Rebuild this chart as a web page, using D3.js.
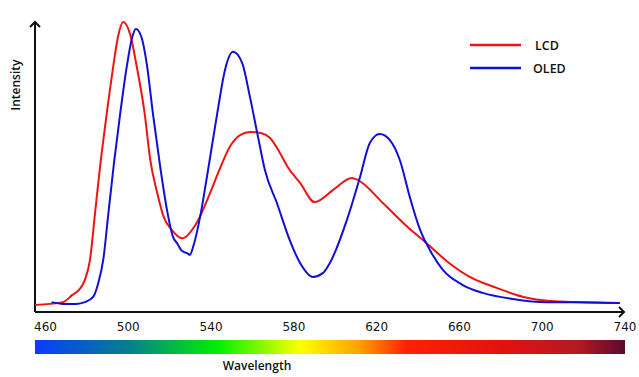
<!DOCTYPE html>
<html>
<head>
<meta charset="utf-8">
<script src="https://cdn.jsdelivr.net/npm/d3@7"></script>
<style>
	body { margin: 0; background: #fff; }
	svg { display: block; }
</style>
</head>
<body>
<svg width="639" height="377"></svg>
<script>
let ticks = [460, 500, 540, 580, 620, 660, 700, 740];

let lcdWl = [455, 462, 468.5, 473, 476.5, 479, 481.5, 484, 486.3, 489.7, 492.6, 495, 497.5, 501, 504, 508, 510.5, 514, 517, 521, 526, 533, 539.5, 544, 549, 554, 559, 564, 568.5, 573, 577, 583, 590, 599, 608, 611, 623, 635, 644, 655, 665, 678, 691, 704, 718, 737.5];
let lcdVal = [2.4, 2.8, 3.4, 5.9, 7.9, 11, 18, 34.5, 49.7, 69, 84, 94.8, 100, 95.5, 85, 68, 53, 41, 33, 28.3, 25.4, 30.7, 41, 49, 56.9, 61, 62.1, 61.7, 60, 55.2, 50, 44.5, 37.9, 42.1, 46.2, 45.5, 37.6, 29.3, 23.8, 16.9, 12.1, 8.3, 5.2, 3.8, 3.4, 3.1];

let oledWl = [463, 468.5, 475, 479, 483, 485.5, 488, 490.2, 493.1, 496, 499.4, 501.8, 503.7, 506.5, 509, 512, 515.3, 518.7, 521.6, 523.5, 526, 528.4, 529.8, 531.3, 534.7, 538, 543, 546.7, 550.6, 555, 558.8, 562.7, 566, 571.8, 578, 583, 589.2, 594, 597.4, 605.6, 612, 616.7, 621.5, 626.4, 631.2, 636, 641, 645.7, 652, 661.6, 671.3, 685.8, 702, 718, 737.5];
let oledVal = [3.4, 2.8, 2.8, 3.4, 5.2, 10, 18.5, 32.8, 51.4, 67.9, 85.2, 94.5, 97.6, 94.5, 85.2, 67.9, 50.7, 35.2, 25.9, 23.8, 21, 20.3, 19.7, 22.4, 32.8, 46.6, 68.6, 83.4, 89.7, 85.9, 74.1, 60.3, 49, 37.6, 24.8, 16.9, 12.1, 13.4, 16.9, 31.7, 46.6, 58.3, 61.4, 59.3, 52.4, 39.7, 28.3, 21.4, 14.5, 9.3, 6.6, 4.5, 3.4, 3.4, 3.1];

let series = [
	{name: "LCD", color: "#ee1414", wl: lcdWl, val: lcdVal},
	{name: "OLED", color: "#1010d4", wl: oledWl, val: oledVal}
];

let spectrumStops = [
	{offset: 0, color: "#0a3cff"},
	{offset: 0.16, color: "#04808c"},
	{offset: 0.31, color: "#00f000"},
	{offset: 0.45, color: "#ffff00"},
	{offset: 0.55, color: "#ffa000"},
	{offset: 0.63, color: "#ff2000"},
	{offset: 0.8, color: "#e01210"},
	{offset: 0.92, color: "#b41a22"},
	{offset: 1, color: "#5a0a30"}
];

let svg = d3.select("svg");
let axisX0 = 35, axisX1 = 624, axisY0 = 312, axisY1 = 22;

let x = d3.scaleLinear()
	.domain([460, 740])
	.range([45.5, 625]);

let y = d3.scaleLinear()
	.domain([0, 100])
	.range([axisY0, axisY1]);

// spectrum bar
let grad = svg.append("defs").append("linearGradient")
	.attr("id", "spectrum");
grad.selectAll("stop").data(spectrumStops).enter().append("stop")
	.attr("offset", d => d.offset)
	.attr("stop-color", d => d.color);

svg.append("rect")
	.attr("x", axisX0)
	.attr("y", 340)
	.attr("width", 625 - axisX0)
	.attr("height", 14)
	.attr("fill", "url(#spectrum)");

// axes with arrows
let axes = svg.append("g")
	.attr("stroke", "#111")
	.attr("stroke-width", 2)
	.attr("fill", "none");
axes.append("path")
	.attr("d", `M${axisX0},${axisY0}H${axisX1}M${axisX0},${axisY0}V${axisY1}`);
axes.append("path")
	.attr("d", `M${axisX1 - 5},${axisY0 - 5}L${axisX1},${axisY0}L${axisX1 - 5},${axisY0 + 5}`);
axes.append("path")
	.attr("d", `M${axisX0 - 5},${axisY1 + 5}L${axisX0},${axisY1}L${axisX0 + 5},${axisY1 + 5}`);

svg.append("g")
	.attr("font-family", "DejaVu Sans")
	.attr("font-size", 12)
	.attr("fill", "#111")
	.attr("text-anchor", "middle")
	.selectAll("text").data(ticks).enter().append("text")
	.attr("x", d => x(d))
	.attr("y", 331)
	.text(d => d);

// curves
let line = d3.line()
	.curve(d3.curveMonotoneX);

svg.append("g")
	.attr("fill", "none")
	.attr("stroke-width", 2)
	.selectAll("path").data(series).enter().append("path")
	.attr("stroke", d => d.color)
	.attr("d", d => line(d.wl.map((w, i) => [x(w), y(d.val[i])])));

// legend
let legend = svg.append("g")
	.attr("font-family", "Open Sans")
	.attr("font-weight", 600)
	.attr("font-size", 12.5)
	.selectAll("g").data(series).enter().append("g")
	.attr("transform", (d, i) => `translate(470,${45 + i * 23})`);
legend.append("line")
	.attr("x2", 51)
	.attr("stroke", d => d.color)
	.attr("stroke-width", 2.5);
legend.append("text")
	.attr("x", (d, i) => i ? 63 : 65)
	.attr("y", 4.5)
	.attr("fill", "#111")
	.text(d => d.name);

// axis titles
svg.append("text")
	.attr("x", 257)
	.attr("y", 370)
	.attr("text-anchor", "middle")
	.attr("font-family", "Open Sans")
	.attr("font-weight", 600)
	.attr("font-size", 12)
	.attr("fill", "#111")
	.text("Wavelength");

svg.append("text")
	.attr("transform", "translate(20,85) rotate(-90)")
	.attr("text-anchor", "middle")
	.attr("font-family", "Open Sans")
	.attr("font-weight", 600)
	.attr("font-size", 12)
	.attr("fill", "#111")
	.text("Intensity");
</script>
</body>
</html>
